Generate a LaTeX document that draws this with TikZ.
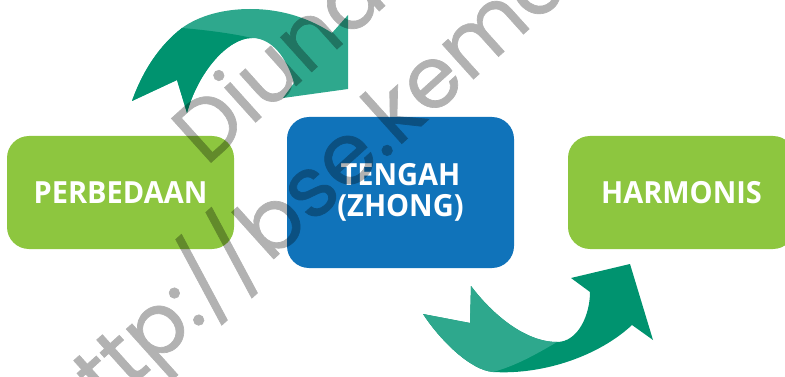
\documentclass[tikz,border=0pt]{standalone}
\usepackage{fontspec}
\newfontfamily\boxfont{Open Sans}[FakeStretch=0.95]
\newfontfamily\wmfont{Poppins}[FakeBold=0.8]
\definecolor{boxgreen}{RGB}{141,198,63}
\definecolor{boxblue}{RGB}{16,115,186}
\definecolor{arrdark}{RGB}{0,147,111}
\definecolor{arrlight}{RGB}{46,168,141}
\begin{document}
\begin{tikzpicture}[x=1pt,y=-1pt,
  box/.style={rounded corners=22pt, minimum width=227pt, inner sep=0pt,
    text=white, align=center,
    font=\boxfont\bfseries\fontsize{30.5}{31}\selectfont},
  wm/.style={rotate=42, anchor=base west, inner sep=0pt, text=black,
    font=\wmfont\fontsize{85}{100}\selectfont}]
\useasboundingbox (0,0) rectangle (785,377);
\clip (0,0) rectangle (785,377);
% boxes
\node[box, fill=boxgreen, minimum height=113pt] (perb) at (120.5,192.5) {PERBEDAAN};
\node[box, fill=boxblue, minimum height=151pt] (teng) at (400.5,192.5) {TENGAH\\(ZHONG)};
\node[box, fill=boxgreen, minimum height=113pt] (harm) at (681.5,192.5) {HARMONIS};
% top arrow
\fill[arrlight] (132,101) .. controls (143,70) and (160,45) .. (182,28)
  .. controls (200,15) and (225,9) .. (250,9)
  .. controls (285,9) and (312,20) .. (332,33)
  -- (348,15) -- (348,89) -- (283,98) -- (294,83)
  .. controls (287,58) and (272,38) .. (252,38)
  .. controls (228,38) and (198,72) .. (187,113)
  -- (177,80) -- cycle;
\fill[arrdark] (132,101) .. controls (143,70) and (160,45) .. (182,28)
  .. controls (205,30) and (230,33) .. (252,38)
  .. controls (228,38) and (198,72) .. (187,113)
  -- (177,80) -- cycle;
% bottom arrow
\fill[arrdark] (423,314) -- (470,323) -- (471,286)
  .. controls (492,314) and (525,342) .. (557,342)
  .. controls (578,342) and (590,315) .. (590,292)
  -- (571,278) -- (630,264) -- (653,340) -- (632,325)
  .. controls (600,355) and (545,375) .. (493,372)
  .. controls (470,370) and (440,340) .. (423,314) -- cycle;
\fill[arrlight] (423,314) -- (470,323) -- (471,286)
  .. controls (492,314) and (525,342) .. (557,342)
  .. controls (535,355) and (515,366) .. (493,372)
  .. controls (470,370) and (440,340) .. (423,314) -- cycle;
% watermark
\begin{scope}[transparency group, opacity=0.3]
\node[wm] (wm1) at (206,167) {Diunduh dari};
\node[wm] (wm2) at (66,446) {http://bse.kemdikbud.go.id};
\end{scope}
\end{tikzpicture}
\end{document}
